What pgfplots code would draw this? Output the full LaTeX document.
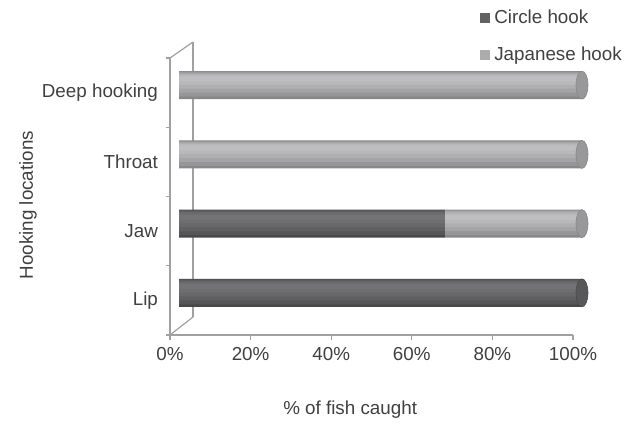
\documentclass[border=0pt]{standalone}
\usepackage{fontspec}
\setmainfont{Liberation Sans}
\usepackage{pgfplots}
\usepackage{pgfplotstable}
\pgfplotsset{compat=1.18}
\definecolor{txt}{RGB}{64,64,64}
\definecolor{frame}{RGB}{160,160,160}
\definecolor{cLeg}{RGB}{98,98,98}
\definecolor{jLeg}{RGB}{172,172,172}
% cylinder shading layers (outer -> inner)
\definecolor{c1}{RGB}{72,72,74}
\definecolor{c2}{RGB}{86,86,88}
\definecolor{c3}{RGB}{96,96,98}
\definecolor{c4}{RGB}{104,104,106}
\definecolor{c5}{RGB}{110,110,112}
\definecolor{c6}{RGB}{115,115,117}
\definecolor{j1}{RGB}{135,135,137}
\definecolor{j2}{RGB}{150,150,152}
\definecolor{j3}{RGB}{164,164,166}
\definecolor{j4}{RGB}{175,175,177}
\definecolor{j5}{RGB}{184,184,186}
\definecolor{j6}{RGB}{190,190,192}
\definecolor{cCap}{RGB}{88,88,90}
\definecolor{jCap}{RGB}{152,152,154}

\pgfdeclareplotmark{cap}{%
  \pgfpathellipse{\pgfpointorigin}{\pgfqpoint{3pt}{0pt}}{\pgfqpoint{0pt}{7pt}}%
  \pgfusepathqfillstroke}

\pgfplotstableread{
pos circle japanese
1 100 0
2 66 34
3 0 100
4 0 100
}\hooks

\pgfplotsset{barax/.style={
  at={(89.5pt,48.75pt)}, anchor=south west,
  scale only axis, width=201.5pt, height=138.5pt,
  xmin=0, xmax=100, ymin=0.5, ymax=4.5,
  hide axis, clip=false}}

\newcommand\barlayer[4]{%
\begin{axis}[barax, xbar stacked, bar width=#1, bar shift=#2]
\addplot[draw=none, fill=#3] table[x=circle,y=pos]{\hooks};
\addplot[draw=none, fill=#4] table[x=japanese,y=pos]{\hooks};
\end{axis}}

\begin{document}
\begin{tikzpicture}[font=\fontsize{9.4}{11}\selectfont, text=txt]
\useasboundingbox (0,0) rectangle (314pt,212.5pt);
\begin{axis}[
  at={(85pt,45pt)}, anchor=south west,
  scale only axis, width=201.5pt, height=138.5pt,
  xmin=0, xmax=100, ymin=0.5, ymax=4.5,
  axis lines*=left, axis line style={frame, line width=0.6pt},
  tick align=outside,
  xtick={0,20,...,100}, xticklabel={\pgfmathprintnumber{\tick}\%},
  ytick={1,2,3,4}, yticklabels={Lip,Jaw,Throat,Deep hooking},
  minor ytick={0.5,1.5,...,4.5},
  major y tick style={draw=none},
  tick style={frame, line width=0.6pt},
  major tick length=2.5pt, minor tick length=2pt,
  tick label style={font=\fontsize{9.4}{11}\selectfont, text=txt},
  label style={font=\fontsize{9.4}{11}\selectfont, text=txt},
  /pgf/number format/assume math mode=true,
  xlabel={\% of fish caught}, ylabel={Hooking locations},
  xlabel style={at={(axis description cs:0.447,-0.27)}, anchor=center},
  ylabel style={at={(axis description cs:-0.352,0.469)}, anchor=center},
  legend image code/.code={\fill[#1, draw=none] (0pt,-2.5pt) rectangle (5pt,2.5pt);},
  legend style={at={(axis description cs:0.769,1.19)}, anchor=north west,
    draw=none, fill=none, row sep=6pt, inner sep=0pt,
    font=\fontsize{9.4}{11}\selectfont, text=txt},
  legend cell align=left,
]
\addlegendimage{fill=cLeg}
\addlegendentry{Circle hook}
\addlegendimage{fill=jLeg}
\addlegendentry{Japanese hook}
\end{axis}
\draw[frame, line width=0.6pt] (96.5pt,54pt) -- (96.5pt,191.5pt);
\draw[frame, line width=0.6pt] (85pt,45pt) -- (96.5pt,54pt);
\draw[frame, line width=0.6pt] (85pt,183.5pt) -- (96.5pt,191.5pt);
\barlayer{14pt}{0pt}{c1}{j1}
\barlayer{12.5pt}{0.5pt}{c2}{j2}
\barlayer{10pt}{1.25pt}{c3}{j3}
\barlayer{7.5pt}{2pt}{c4}{j4}
\barlayer{5pt}{2.6pt}{c5}{j5}
\barlayer{2.5pt}{3.1pt}{c6}{j6}
\begin{axis}[barax]
\addplot[only marks, mark=cap, mark options={fill=cCap, draw=c1, line width=0.3pt}] coordinates {(100,1)};
\addplot[only marks, mark=cap, mark options={fill=jCap, draw=j1, line width=0.3pt}] coordinates {(100,2) (100,3) (100,4)};
\end{axis}
\end{tikzpicture}
\end{document}
